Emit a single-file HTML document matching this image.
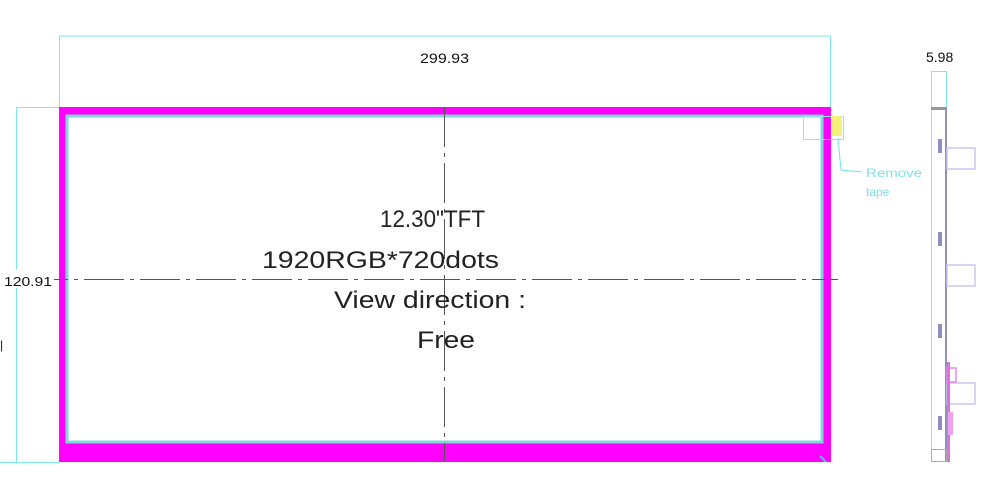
<!DOCTYPE html>
<html><head><meta charset="utf-8"><style>
html,body{margin:0;padding:0;background:#fff;width:997px;height:492px;overflow:hidden}
svg{display:block}
text{font-family:"Liberation Sans",Arial,sans-serif}
</style></head><body>
<svg width="997" height="492" viewBox="0 0 997 492" xmlns="http://www.w3.org/2000/svg">
<g stroke="#7fe8ec" stroke-width="1" fill="none">
<line x1="59" y1="36" x2="831" y2="36"/>
<line x1="59.5" y1="36" x2="59.5" y2="107"/>
<line x1="830.5" y1="36" x2="830.5" y2="107"/>
<line x1="16.5" y1="107" x2="16.5" y2="462"/>
<line x1="16" y1="107.5" x2="59" y2="107.5"/>
<line x1="0" y1="462.5" x2="59" y2="462.5"/>
<rect x="931.5" y="71.5" width="15" height="36"/>
</g>
<rect x="59" y="107" width="772" height="355" fill="#ff00ff"/>
<rect x="66" y="115" width="757" height="328" fill="#fff"/>
<rect x="67" y="116" width="755" height="326" fill="none" stroke="#7fd8d8" stroke-width="3"/>
<line x1="444.5" y1="107" x2="444.5" y2="462" stroke="#555" stroke-width="1" stroke-dasharray="40,6,4,6"/>
<line x1="28" y1="279.5" x2="838" y2="279.5" stroke="#555" stroke-width="1" stroke-dasharray="40,6,4,6"/>
<rect x="803.5" y="116.5" width="40" height="23" fill="none" stroke="#8ee8ee"/>
<rect x="832" y="116" width="10" height="20" fill="#f5f07a"/>
<polyline points="838,138 841,170 862,172" fill="none" stroke="#6fe4ea" stroke-width="1"/>
<line x1="820" y1="456" x2="826" y2="462" stroke="#25d8e8" stroke-width="2"/>
<text x="866" y="177" font-size="12" fill="#7fe0ea" textLength="56" lengthAdjust="spacingAndGlyphs">Remove</text>
<text x="866" y="196" font-size="12" fill="#7fe0ea">tape</text>
<text x="420" y="63" font-size="14" fill="#111" textLength="49" lengthAdjust="spacingAndGlyphs">299.93</text>
<text x="926" y="62" font-size="14" fill="#111">5.98</text>
<rect x="2" y="270" width="52" height="18" fill="#fff"/>
<text x="4" y="286" font-size="13" fill="#111" textLength="48" lengthAdjust="spacingAndGlyphs">120.91</text>
<text x="0" y="349" font-size="12" fill="#111">|</text>
<text x="380" y="227" font-size="24" fill="#222" textLength="105" lengthAdjust="spacingAndGlyphs">12.30"TFT</text>
<text x="262" y="268" font-size="24" fill="#222" textLength="237" lengthAdjust="spacingAndGlyphs">1920RGB*720dots</text>
<text x="334" y="308" font-size="24" fill="#222" textLength="192" lengthAdjust="spacingAndGlyphs">View direction :</text>
<text x="417" y="348" font-size="24" fill="#222" textLength="58" lengthAdjust="spacingAndGlyphs">Free</text>
<line x1="931.5" y1="107" x2="931.5" y2="462" stroke="#8ee8ee"/>
<rect x="931" y="107" width="15" height="3" fill="#999"/>
<line x1="946" y1="107" x2="946" y2="462" stroke="#9090b8" stroke-width="2"/>
<rect x="931.5" y="449.5" width="15" height="12" fill="none" stroke="#aaa"/>
<g fill="#8e8ec0">
<rect x="938" y="139" width="4" height="14"/>
<rect x="938" y="232" width="4" height="14"/>
<rect x="938" y="324" width="4" height="14"/>
<rect x="938" y="416" width="4" height="14"/>
</g>
<g fill="none" stroke="#c8c8f0" stroke-width="1.5">
<rect x="947" y="148" width="28" height="21"/>
<rect x="947" y="265" width="28" height="21"/>
<rect x="947" y="383" width="28" height="21"/>
</g>
<rect x="947" y="368" width="9" height="14" fill="none" stroke="#e888e8" stroke-width="1.5"/>
<rect x="947" y="362" width="3" height="100" fill="#e070e0"/>
<rect x="948" y="412" width="5" height="23" fill="#f0a0f0"/>
</svg>
</body></html>
